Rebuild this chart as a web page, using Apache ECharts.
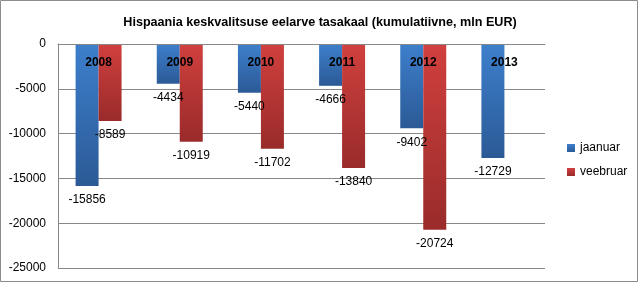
<!DOCTYPE html>
<html><head><meta charset="utf-8">
<script src="https://cdn.jsdelivr.net/npm/echarts@6/dist/echarts.min.js"></script>
<style>html,body{margin:0;padding:0;background:#fff}#c{width:640px;height:284px}</style>
</head><body><div id="c"></div>
<script>
const title = 'Hispaania keskvalitsuse eelarve tasakaal (kumulatiivne, mln EUR)';
const categories = ['2008','2009','2010','2011','2012','2013'];
const jaanuar = [-15856, -4434, -5440, -4666, -9402, -12729];
const veebruar = [-8589, -10919, -11702, -13840, -20724, null];
const seriesNames = ['jaanuar','veebruar'];
const yMin = -25000, yMax = 0, yStep = 5000;

const font = '"Liberation Sans", Arial, sans-serif';
function grad(top, bottom){
  return new echarts.graphic.LinearGradient(0,0,0,1,[{offset:0,color:top},{offset:1,color:bottom}]);
}
const chart = echarts.init(document.getElementById('c'), null, {renderer:'canvas'});
chart.setOption({
  animation:false,
  backgroundColor:'#fff',
  textStyle:{fontFamily:font},
  title:{text:title,left:'center',top:11,textStyle:{fontFamily:font,fontSize:12.6,fontWeight:'bold',color:'#000'}},
  graphic:[{type:'rect',shape:{x:0.5,y:0.5,width:637,height:281},style:{fill:'none',stroke:'#8c8c8c',lineWidth:1}}],
  legend:{orient:'vertical',left:562,top:137,itemWidth:8,itemHeight:8,itemGap:12,icon:'rect',
    textStyle:{fontFamily:font,fontSize:12,color:'#000'},data:seriesNames},
  grid:{left:58,top:44,width:487,height:224,containLabel:false},
  xAxis:{type:'category',data:categories,position:'top',z:10,
    axisLine:{lineStyle:{color:'#888'}},axisTick:{show:false},
    axisLabel:{inside:true,margin:13,fontFamily:font,fontSize:12,fontWeight:'bold',color:'#000'}},
  yAxis:{type:'value',min:yMin,max:yMax,interval:yStep,
    axisLine:{show:true,lineStyle:{color:'#888'}},axisTick:{show:false},
    splitLine:{lineStyle:{color:'#888'}},
    axisLabel:{margin:12,fontFamily:font,fontSize:12,color:'#000',formatter:function(v){return String(v);}}},
  series:[
    {name:seriesNames[0],type:'bar',data:jaanuar,barWidth:23,barGap:'0%',
     itemStyle:{color:grad('#3d7fcc','#2b5a96')},
     label:{show:true,position:'bottom',distance:8,fontFamily:font,fontSize:12,color:'#000'}},
    {name:seriesNames[1],type:'bar',data:veebruar,barWidth:23,barGap:'0%',
     itemStyle:{color:grad('#d0403e','#992b2a')},
     label:{show:true,position:'bottom',distance:8,fontFamily:font,fontSize:12,color:'#000'}}
  ]
});
</script></body></html>
